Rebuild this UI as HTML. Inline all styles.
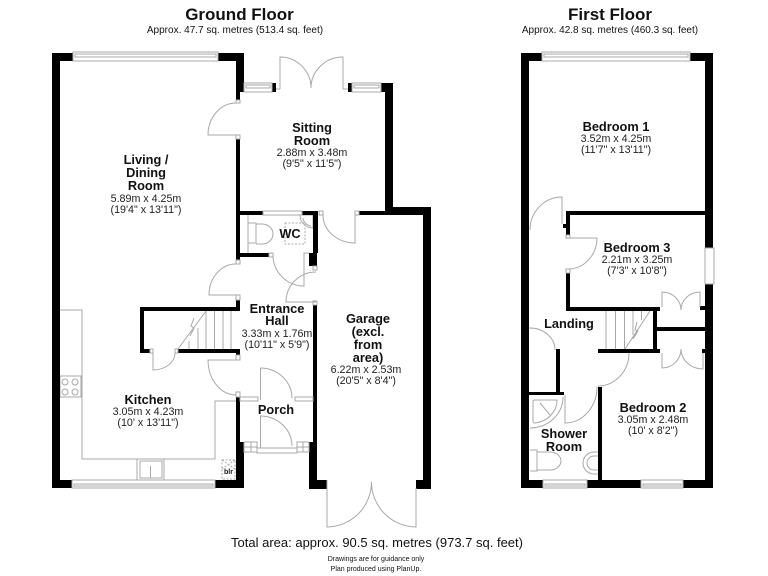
<!DOCTYPE html>
<html><head><meta charset="utf-8"><style>
html,body{margin:0;padding:0;background:#fff}
svg{display:block}
text{font-family:"Liberation Sans",sans-serif;fill:#111;text-anchor:middle}
.b{font-weight:700;font-size:12.8px}
.r{font-size:10.7px;fill:#222}
.l{fill:none;stroke:#a8a8a8;stroke-width:1}
.w{fill:#fff;stroke:#a8a8a8;stroke-width:1}
.d{fill:none;stroke:#aaa;stroke-width:1;stroke-dasharray:2 1.5}
</style></head><body>
<svg width="768" height="576" viewBox="0 0 768 576" xmlns="http://www.w3.org/2000/svg">
<rect width="768" height="576" fill="#fff"/>
<!-- counters and fixtures -->
<g class="l">
<path d="M60 310H82V459H215V401H236"/>
<rect x="60" y="376" width="21" height="21"/>
<circle cx="65" cy="382" r="3"/><circle cx="75" cy="382" r="3"/><circle cx="65" cy="392" r="3"/><circle cx="75" cy="392" r="3"/>
<rect x="137" y="459" width="27" height="21"/><rect x="140" y="461" width="22" height="17"/>
<path d="M150.500 466v12M149 478h3"/>
<path d="M248 215V253M248 223h8v20h-8M256 224h6a11 10 0 0 1 0 20h-6"/>
<path d="M300 215a13 13 0 0 0 13 13V215zM303 218a9 9 0 0 0 8 8"/>
<path d="M606 311V349M615.500 311V349M624.500 311V349M633 311V335M641.500 311V320M650 311L625 349M637 322l-2 8 3 1-5 8"/>
<path d="M189 341V349M198 328V349M206 311V349M214.500 311V349M223 311V349M231 311V349M206 311L178 349M194 318l-3 8 3 2-4 8"/>
<path d="M563 397A33 31 0 0 1 530 428M535 400H557A25 23 0 0 1 535 423Q533 423 533 420V402Q533 400 535 400ZM540 403l10 12"/>
<path d="M530 450h7v21h-7M537 452h13a11 9 0 0 1 0 18h-13"/>
<path d="M598 452h-4a11 11 0 0 0 0 22h4M598 456h-4a7 7 0 0 0 0 14h4"/>
</g>
<rect x="285" y="223" width="20" height="21" class="d"/>
<rect x="222" y="460" width="13" height="19" class="d"/>
<path d="M222 460l13 9M235 460l-13 9" class="d"/>
<!-- walls -->
<g fill="#000">
<rect x="52" y="53" width="8" height="435"/>
<rect x="52" y="53" width="21" height="8"/>
<rect x="218" y="53" width="26" height="8"/>
<rect x="236" y="53" width="8" height="39"/>
<rect x="236" y="92" width="4" height="8"/>
<rect x="236" y="139" width="4" height="121"/>
<rect x="240" y="211" width="23" height="4"/>
<rect x="302" y="211" width="16" height="4"/>
<rect x="313" y="211" width="5" height="42"/>
<rect x="309" y="253" width="8" height="13"/>
<rect x="236" y="253" width="33" height="4"/>
<rect x="272" y="83" width="4" height="9"/>
<rect x="348" y="83" width="4" height="9"/>
<rect x="381" y="83" width="12" height="9"/>
<rect x="385" y="83" width="8" height="132"/>
<rect x="385" y="207" width="46" height="8"/>
<rect x="359" y="211" width="30" height="4"/>
<rect x="423" y="207" width="8" height="282"/>
<rect x="416" y="480" width="15" height="9"/>
<rect x="313" y="305" width="4" height="137"/>
<rect x="309" y="442" width="8" height="47"/>
<rect x="309" y="480" width="18" height="9"/>
<rect x="236" y="300" width="4" height="11"/>
<rect x="140" y="307" width="100" height="4"/>
<rect x="140" y="307" width="4" height="46"/>
<rect x="140" y="349" width="10" height="4"/>
<rect x="178" y="349" width="62" height="4"/>
<rect x="236" y="349" width="4" height="6"/>
<rect x="236" y="397" width="4" height="45"/>
<rect x="236" y="442" width="8" height="46"/>
<rect x="52" y="480" width="20" height="8"/>
<rect x="215" y="480" width="29" height="8"/>
<!-- first floor -->
<rect x="521" y="53" width="8" height="435"/>
<rect x="521" y="53" width="21" height="8"/>
<rect x="690" y="53" width="23" height="8"/>
<rect x="705" y="53" width="8" height="195"/>
<rect x="705" y="284" width="8" height="204"/>
<rect x="521" y="480" width="22" height="8"/>
<rect x="587" y="480" width="54" height="8"/>
<rect x="683" y="480" width="30" height="8"/>
<rect x="566" y="211" width="139" height="4"/>
<rect x="566" y="211" width="4" height="24"/>
<rect x="563" y="224" width="3" height="4"/>
<rect x="566" y="273" width="4" height="38"/>
<rect x="566" y="307" width="94" height="4"/>
<rect x="700" y="306" width="5" height="4"/>
<rect x="653" y="307" width="4" height="46"/>
<rect x="657" y="327" width="48" height="4"/>
<rect x="598" y="349" width="62" height="4"/>
<rect x="702" y="349" width="3" height="4"/>
<rect x="556" y="349" width="4" height="46"/>
<rect x="529" y="392" width="35" height="3"/>
<rect x="598" y="387" width="4" height="93"/>
</g>
<!-- windows -->
<g class="w">
<rect x="73" y="52" width="145" height="9"/><rect x="75" y="54" width="141" height="3"/>
<rect x="244" y="83" width="28" height="9"/><rect x="246" y="85" width="24" height="3"/>
<rect x="352" y="83" width="29" height="9"/><rect x="354" y="85" width="25" height="3"/>
<rect x="263" y="211" width="39" height="4"/>
<rect x="72" y="480" width="143" height="8"/><rect x="74" y="484" width="139" height="2"/>
<rect x="240" y="397" width="18" height="4"/>
<rect x="295" y="397" width="18" height="4"/>
<rect x="244" y="442" width="13" height="10"/><path d="M244 447h13M251 442v10"/>
<rect x="297" y="442" width="12" height="10"/><path d="M297 447h12M303 442v10"/>
<rect x="257" y="448" width="40" height="5"/>
<rect x="542" y="52" width="148" height="9"/><rect x="544" y="54" width="144" height="3"/>
<rect x="543" y="480" width="44" height="8"/><rect x="545" y="484" width="40" height="2"/>
<rect x="641" y="480" width="42" height="8"/><rect x="643" y="484" width="38" height="2"/>
<rect x="705" y="248" width="9" height="36"/>
<rect x="236" y="100" width="4" height="3"/><rect x="236" y="135" width="4" height="4"/>
<rect x="319" y="211" width="4" height="4"/><rect x="355" y="211" width="4" height="4"/>
<rect x="269" y="253" width="4" height="4"/><rect x="313" y="266" width="4" height="4"/><rect x="313" y="301" width="4" height="4"/>
<rect x="236" y="260" width="4" height="4"/><rect x="236" y="295" width="4" height="5"/>
<rect x="236" y="355" width="4" height="5"/><rect x="236" y="392" width="4" height="5"/>
<rect x="150" y="349" width="3" height="4"/><rect x="175" y="349" width="3" height="4"/>
<rect x="566" y="235" width="4" height="3"/><rect x="566" y="269" width="4" height="4"/>
</g>
<!-- doors -->
<g class="l">
<path d="M236 103A28 32 0 0 0 208 135H236"/>
<path d="M280 89V57A31 31 0 0 1 311 88"/>
<path d="M343 89V57A32 31 0 0 0 311 88"/>
<path d="M276 89h4M343 89h5"/>
<path d="M323 215A32 28 0 0 0 355 243V215"/>
<path d="M273 255A31 31 0 0 0 304 286V253H309"/>
<path d="M316 302H286A30 30 0 0 1 316 272"/>
<path d="M236 264A27 31 0 0 0 209 295H236"/>
<path d="M236 360H208A28 35 0 0 0 236 395"/>
<path d="M153 353V370A22 17 0 0 0 175 353"/>
<path d="M260.500 400V368A32 30 0 0 1 292 398"/>
<path d="M260.500 448V416A32 30 0 0 1 292 446"/>
<path d="M327 480V527A45 45 0 0 0 371.500 482"/>
<path d="M416 488V527A45 45 0 0 1 371.500 482"/>
<path d="M562 224V197A32 33 0 0 0 530 230"/>
<path d="M568 238H597A29 31 0 0 1 568 269"/>
<path d="M662 307V292A19 18 0 0 1 681 310"/>
<path d="M700 307V292A19 18 0 0 0 681 310"/>
<path d="M662 353V368A19 19 0 0 0 681 349"/>
<path d="M703 353V369A22 20 0 0 1 681 349"/>
<path d="M529 328H530A25 22 0 0 1 555 350"/>
<path d="M565 395V423A32 36 0 0 0 597 387"/>
<path d="M598 386A31 33 0 0 0 629 353"/>
</g>
<!-- text -->
<text x="239.500" y="20" font-size="17" font-weight="700" fill="#000">Ground Floor</text>
<text x="235" y="33" font-size="10">Approx. 47.7 sq. metres (513.4 sq. feet)</text>
<text x="610" y="20" font-size="17" font-weight="700">First Floor</text>
<text x="610" y="33" font-size="10">Approx. 42.8 sq. metres (460.3 sq. feet)</text>

<text x="146" y="164" class="b">Living /</text>
<text x="146" y="177" class="b">Dining</text>
<text x="146" y="190" class="b">Room</text>
<text x="146" y="202" class="r">5.89m x 4.25m</text>
<text x="146" y="213" class="r">(19'4" x 13'11")</text>

<text x="312" y="132" class="b">Sitting</text>
<text x="312" y="145" class="b">Room</text>
<text x="312" y="156" class="r">2.88m x 3.48m</text>
<text x="312" y="167" class="r">(9'5" x 11'5")</text>

<text x="290" y="238" class="b">WC</text>

<text x="277" y="313" class="b">Entrance</text>
<text x="277" y="325" class="b">Hall</text>
<text x="277" y="337" class="r">3.33m x 1.76m</text>
<text x="277" y="348" class="r">(10'11" x 5'9")</text>

<text x="368" y="323" class="b">Garage</text>
<text x="368" y="336" class="b">(excl.</text>
<text x="368" y="349" class="b">from</text>
<text x="368" y="362" class="b">area)</text>
<text x="366" y="373" class="r">6.22m x 2.53m</text>
<text x="366" y="384" class="r">(20'5" x 8'4")</text>

<text x="276" y="414" class="b">Porch</text>

<text x="148" y="404" class="b">Kitchen</text>
<text x="148" y="415" class="r">3.05m x 4.23m</text>
<text x="148" y="426" class="r">(10' x 13'11")</text>
<text x="228.500" y="474" font-size="7" font-weight="700">blr</text>

<text x="616" y="131" class="b">Bedroom 1</text>
<text x="616" y="142" class="r">3.52m x 4.25m</text>
<text x="616" y="153" class="r">(11'7" x 13'11")</text>

<text x="637" y="252" class="b">Bedroom 3</text>
<text x="637" y="263" class="r">2.21m x 3.25m</text>
<text x="637" y="274" class="r">(7'3" x 10'8")</text>

<text x="569" y="328" class="b">Landing</text>

<text x="653" y="412" class="b">Bedroom 2</text>
<text x="653" y="423" class="r">3.05m x 2.48m</text>
<text x="653" y="434" class="r">(10' x 8'2")</text>

<text x="564" y="438" class="b">Shower</text>
<text x="564" y="451" class="b">Room</text>

<text x="377" y="547" font-size="13">Total area: approx. 90.5 sq. metres (973.7 sq. feet)</text>
<text x="376" y="561" font-size="7">Drawings are for guidance only</text>
<text x="376" y="571" font-size="7">Plan produced using PlanUp.</text>
</svg>
</body></html>
